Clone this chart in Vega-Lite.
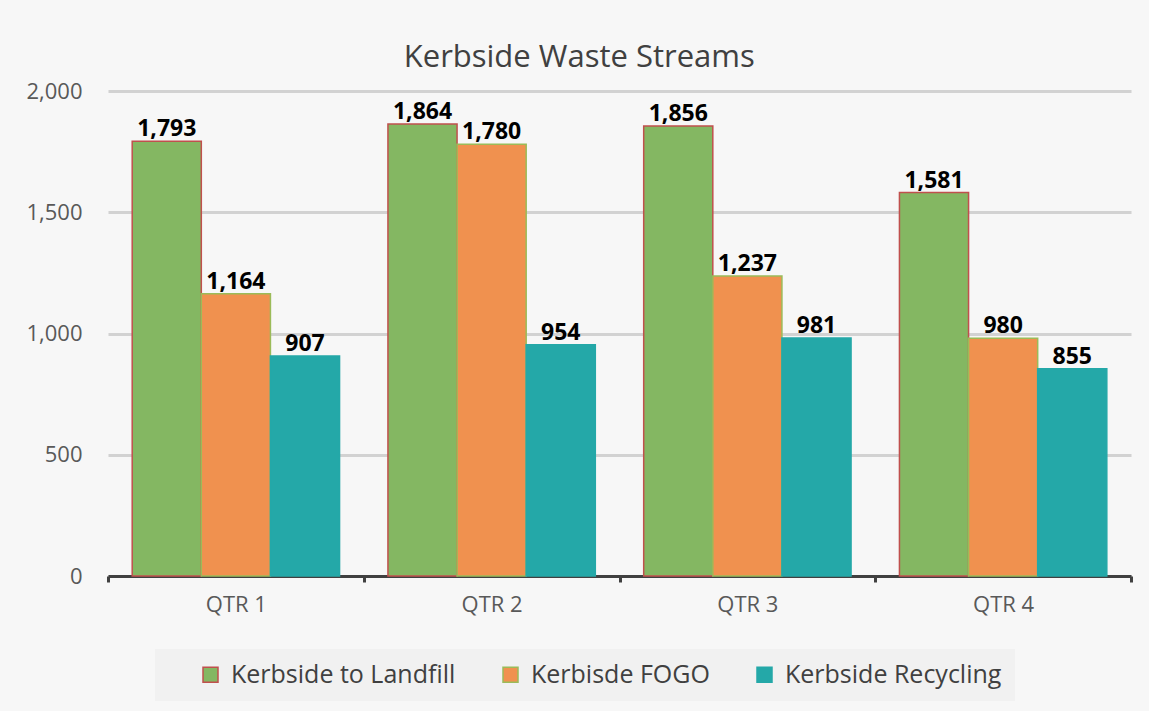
{
  "$schema": "https://vega.github.io/schema/vega-lite/v6.json",
  "width": 1023,
  "height": 485,
  "padding": {"left": 25, "top": 42, "right": 16, "bottom": 10},
  "background": "#f7f7f7",
  "title": {"text": "Kerbside Waste Streams", "font": "Open Sans", "fontSize": 31, "fontWeight": "normal", "color": "#404040", "offset": 6, "anchor": "middle", "frame": "bounds"},
  "config": {"view": {"stroke": null}, "font": "Open Sans"},
  "data": {"values": [
    {"qtr": "QTR 1", "stream": "Kerbside to Landfill", "value": 1793},
    {"qtr": "QTR 1", "stream": "Kerbisde FOGO", "value": 1164},
    {"qtr": "QTR 1", "stream": "Kerbside Recycling", "value": 907},
    {"qtr": "QTR 2", "stream": "Kerbside to Landfill", "value": 1864},
    {"qtr": "QTR 2", "stream": "Kerbisde FOGO", "value": 1780},
    {"qtr": "QTR 2", "stream": "Kerbside Recycling", "value": 954},
    {"qtr": "QTR 3", "stream": "Kerbside to Landfill", "value": 1856},
    {"qtr": "QTR 3", "stream": "Kerbisde FOGO", "value": 1237},
    {"qtr": "QTR 3", "stream": "Kerbside Recycling", "value": 981},
    {"qtr": "QTR 4", "stream": "Kerbside to Landfill", "value": 1581},
    {"qtr": "QTR 4", "stream": "Kerbisde FOGO", "value": 980},
    {"qtr": "QTR 4", "stream": "Kerbside Recycling", "value": 855}
  ]},
  "encoding": {
    "x": {"field": "qtr", "type": "nominal", "scale": {"paddingInner": 0, "paddingOuter": 0},
      "axis": {"title": null, "labelAngle": 0, "labelFontSize": 22, "labelColor": "#595959", "labelPadding": 12, "domainColor": "#404040", "domainWidth": 3, "tickColor": "#404040", "tickWidth": 3, "tickSize": 6, "tickBand": "extent", "labelFont": "Open Sans"}},
    "xOffset": {"field": "stream", "type": "nominal", "sort": ["Kerbside to Landfill", "Kerbisde FOGO", "Kerbside Recycling"], "scale": {"paddingOuter": 0.35, "paddingInner": 0}},
    "y": {"field": "value", "type": "quantitative", "scale": {"domain": [0, 2000]},
      "axis": {"title": null, "values": [0, 500, 1000, 1500, 2000], "format": ",d", "labelFontSize": 22, "labelColor": "#595959", "labelPadding": 26, "tickSize": 0, "domain": false, "gridColor": "#d2d2d2", "gridWidth": 3, "labelFont": "Open Sans"}}
  },
  "layer": [
    {
      "mark": {"type": "bar", "strokeWidth": 1.5},
      "encoding": {
        "color": {"field": "stream", "type": "nominal", "sort": ["Kerbside to Landfill", "Kerbisde FOGO", "Kerbside Recycling"],
          "scale": {"domain": ["Kerbside to Landfill", "Kerbisde FOGO", "Kerbside Recycling"], "range": ["#84b762", "#f0914f", "#24a8a8"]},
          "legend": {"title": null, "orient": "none", "legendX": 47, "legendY": 558, "direction": "horizontal", "labelFontSize": 25, "labelColor": "#404040", "labelFont": "Open Sans", "labelLimit": 400, "symbolType": "square", "symbolSize": 225, "symbolStrokeWidth": 1.5, "columnPadding": 12, "padding": 13, "fillColor": "#f1f1f1", "labelOffset": 8, "symbolOffset": 30}},
        "stroke": {"field": "stream", "type": "nominal", "legend": null,
          "scale": {"domain": ["Kerbside to Landfill", "Kerbisde FOGO", "Kerbside Recycling"], "range": ["#c0504d", "#9bbb59", "#24a8a8"]}}
      }
    },
    {
      "mark": {"type": "text", "dy": -5, "baseline": "alphabetic", "fontWeight": "bold", "fontSize": 23, "color": "#000000", "font": "Open Sans"},
      "encoding": {"text": {"field": "value", "type": "quantitative", "format": ",d"}}
    }
  ]
}
